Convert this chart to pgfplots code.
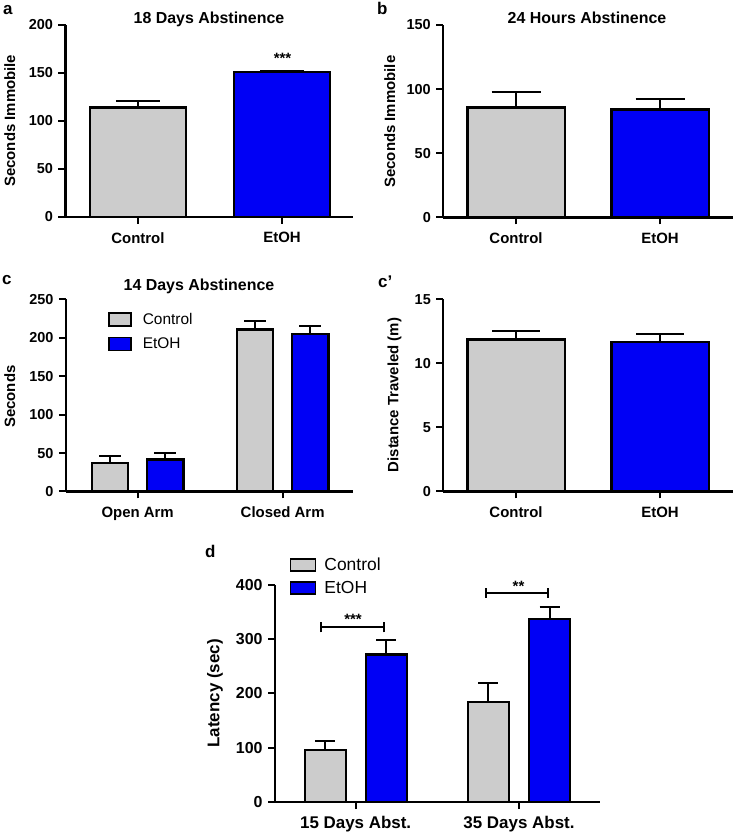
\documentclass[border=0pt]{standalone}
\usepackage{fontspec}
\setmainfont{Liberation Sans}
\usepackage{pgfplots}
\pgfplotsset{compat=1.18}
\definecolor{cgray}{RGB}{204,204,204}
\definecolor{cblue}{RGB}{0,0,245}
\pgfplotsset{
  panel/.style={
    scale only axis,
    anchor=south west,
    axis x line*=bottom, axis y line*=left,
    axis line style={line width=2.2bp,-},
    every tick/.style={black,line width=2bp},
    tick align=outside,
    major tick length=7bp,
    ymin=0,
    xtick={0,1},
    clip=false,
    /pgf/number format/assume math mode=true,
    yticklabel style={font=\fontsize{14.5}{16}\selectfont\bfseries, xshift=-2bp},
    xticklabel style={font=\fontsize{15}{17}\selectfont\bfseries, yshift=-5bp},
    error bars/y dir=plus,
    error bars/y explicit,
    error bars/error bar style={line width=2bp,black},
  },
  ctrl/.style={ybar, bar shift=0, fill=cgray, draw=black, line width=2.2bp},
  etoh/.style={ybar, bar shift=0, fill=cblue, draw=black, line width=2.2bp},
}
\begin{document}
\begin{tikzpicture}[x=1bp,y=1bp]
\useasboundingbox (0,0) rectangle (733,835);

% panel a
\begin{axis}[panel, at={(65.5bp,618bp)}, width=287.5bp, height=192bp,
  xmin=-0.503, xmax=1.493, ymax=200, ytick={0,50,100,150,200},
  xticklabels={Control,EtOH},
  error bars/error mark options={rotate=90,line width=2bp,black,mark size=22bp}]
\addplot[ctrl, bar width=0.667] coordinates {(0,114) +- (0,6.5)};
\addplot[etoh, bar width=0.667] coordinates {(1,151) +- (0,1.5)};
\end{axis}

% panel b
\begin{axis}[panel, at={(443.3bp,617.5bp)}, width=289.7bp, height=192.5bp,
  xmin=-0.505, xmax=1.507, ymax=150, ytick={0,50,100,150},
  xticklabels={Control,EtOH},
  error bars/error mark options={rotate=90,line width=2bp,black,mark size=24.5bp}]
\addplot[ctrl, bar width=0.675] coordinates {(0,85.7) +- (0,11.7)};
\addplot[etoh, bar width=0.675] coordinates {(1,84.2) +- (0,7.8)};
\end{axis}

% panel c
\begin{axis}[panel, at={(66bp,343.5bp)}, width=287bp, height=192bp,
  xmin=-0.494, xmax=1.485, ymax=250, ytick={0,50,100,150,200,250},
  xticklabels={Open Arm,Closed Arm},
  error bars/error mark options={rotate=90,line width=2bp,black,mark size=11bp},
  legend image code/.code={\draw[#1,line width=1.8bp] (0bp,-6.5bp) rectangle (22bp,6.5bp); \path[draw=none,fill=none] (0bp,0bp) -- (32bp,0bp);},
  legend cell align=left,
  legend style={at={(0.135,0.95)}, anchor=north west, draw=none, fill=none,
    font=\fontsize{15.5}{17}\selectfont, row sep=8bp}]
\addplot[ctrl, bar width=0.252] coordinates {(-0.19,37.4) +- (0,8.6) (0.81,210.8) +- (0,10.9)};
\addplot[etoh, bar width=0.252] coordinates {(0.19,41.7) +- (0,8.7) (1.19,204.7) +- (0,10.5)};
\legend{Control,EtOH}
\end{axis}

% panel c'
\begin{axis}[panel, at={(443.3bp,343.5bp)}, width=289.7bp, height=192bp,
  xmin=-0.505, xmax=1.507, ymax=15, ytick={0,5,10,15},
  xticklabels={Control,EtOH},
  error bars/error mark options={rotate=90,line width=2bp,black,mark size=24bp}]
\addplot[ctrl, bar width=0.675] coordinates {(0,11.87) +- (0,0.68)};
\addplot[etoh, bar width=0.675] coordinates {(1,11.68) +- (0,0.63)};
\end{axis}

% panel d
\begin{axis}[panel, at={(275bp,33bp)}, width=325bp, height=217bp,
  xmin=-0.494, xmax=1.496, ymax=400, ytick={0,100,200,300,400},
  xticklabels={15 Days Abst.,35 Days Abst.},
  yticklabel style={font=\fontsize{16}{18}\selectfont\bfseries},
  xticklabel style={font=\fontsize{17}{19}\selectfont\bfseries, yshift=1bp},
  error bars/error mark options={rotate=90,line width=2bp,black,mark size=10bp},
  legend image code/.code={\draw[#1,line width=1.8bp] (0bp,-6bp) rectangle (25bp,6bp); \path[draw=none,fill=none] (0bp,0bp) -- (32bp,0bp);},
  legend cell align=left,
  legend style={at={(0.035,1.145)}, anchor=north west, draw=none, fill=none,
    font=\fontsize{17.5}{19}\selectfont, row sep=5bp}]
\addplot[ctrl, bar width=0.251] coordinates {(-0.187,95.4) +- (0,17.2) (0.813,184.6) +- (0,35.1)};
\addplot[etoh, bar width=0.251] coordinates {(0.187,272) +- (0,26.5) (1.187,336.6) +- (0,23.4)};
\legend{Control,EtOH}
\draw[line width=2bp] (axis cs:-0.2125,322) -- (axis cs:0.173,322);
\draw[line width=2bp] (axis cs:-0.2125,312.8) -- (axis cs:-0.2125,331.2);
\draw[line width=2bp] (axis cs:0.173,312.8) -- (axis cs:0.173,331.2);
\draw[line width=2bp] (axis cs:0.798,385.8) -- (axis cs:1.179,385.8);
\draw[line width=2bp] (axis cs:0.798,376.6) -- (axis cs:0.798,395);
\draw[line width=2bp] (axis cs:1.179,376.6) -- (axis cs:1.179,395);
\end{axis}

% titles
\node[font=\fontsize{16}{18}\selectfont\bfseries, anchor=base] at (209,811) {18 Days Abstinence};
\node[font=\fontsize{16}{18}\selectfont\bfseries, anchor=base] at (587,811) {24 Hours Abstinence};
\node[font=\fontsize{16}{18}\selectfont\bfseries, anchor=base] at (199,544.3) {14 Days Abstinence};
% y labels
\node[font=\fontsize{15}{17}\selectfont\bfseries, rotate=90, anchor=base] at (15,714.2) {Seconds Immobile};
\node[font=\fontsize{15}{17}\selectfont\bfseries, rotate=90, anchor=base] at (395,713.3) {Seconds Immobile};
\node[font=\fontsize{15}{17}\selectfont\bfseries, rotate=90, anchor=base] at (15,438.3) {Seconds};
\node[font=\fontsize{15}{17}\selectfont\bfseries, rotate=90, anchor=base] at (398.3,440) {Distance Traveled (m)};
\node[font=\fontsize{17}{19}\selectfont\bfseries, rotate=90, anchor=base] at (219.3,141.7) {Latency (sec)};
% panel letters
\node[font=\fontsize{17}{19}\selectfont\bfseries, anchor=base west, inner sep=0] at (3,820) {a};
\node[font=\fontsize{17}{19}\selectfont\bfseries, anchor=base west, inner sep=0] at (377,820) {b};
\node[font=\fontsize{17}{19}\selectfont\bfseries, anchor=base west, inner sep=0] at (2,550) {c};
\node[font=\fontsize{17}{19}\selectfont\bfseries, anchor=base west, inner sep=0] at (378,547) {c’};
\node[font=\fontsize{17}{19}\selectfont\bfseries, anchor=base west, inner sep=0] at (205,277) {d};
% significance
\node[font=\fontsize{15}{17}\selectfont\bfseries, anchor=base] at (282.5,771.3) {***};
\node[font=\fontsize{15}{17}\selectfont\bfseries, anchor=base] at (353,210.3) {***};
\node[font=\fontsize{15}{17}\selectfont\bfseries, anchor=base] at (518.5,243) {**};
\end{tikzpicture}
\end{document}
